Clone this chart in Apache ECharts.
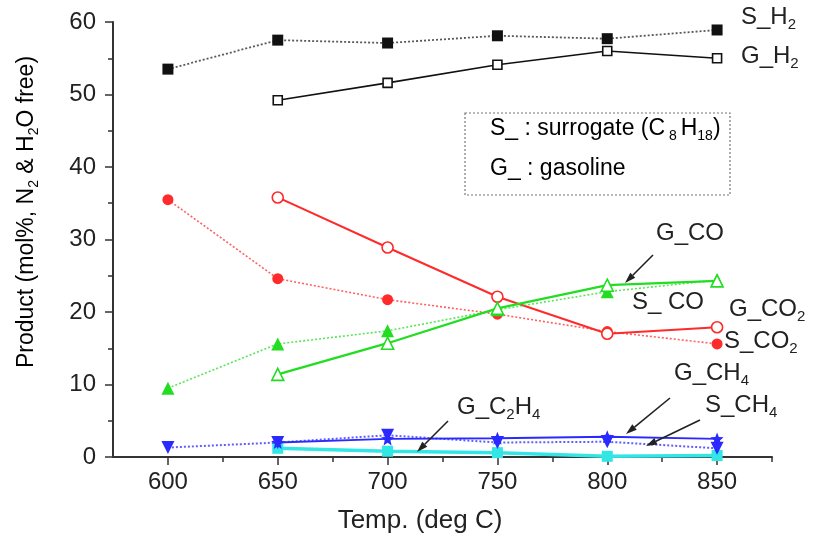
<!DOCTYPE html>
<html>
<head>
<meta charset="utf-8">
<script src="https://cdn.jsdelivr.net/npm/echarts@6/dist/echarts.min.js"></script>
<style>
html,body{margin:0;padding:0;background:#fff;}
#chart{width:815px;height:540px;}
</style>
</head>
<body>
<div id="chart"></div>
<script>
// ---- data ----
const temps = [600, 650, 700, 750, 800, 850];
const xMajorTicks = [600, 650, 700, 750, 800, 850];
const xMinorTicks = [625, 675, 725, 775, 825, 875];
const S_H2   = [53.5, 57.5, 57.1, 58.1, 57.7, 58.9];
const G_H2   = [null, 49.2, 51.6, 54.1, 56.0, 55.0];
const S_CO2  = [35.5, 24.6, 21.7, 19.7, 17.3, 15.6];
const G_CO2  = [null, 35.8, 28.9, 22.1, 17.0, 17.9];
const S_CO   = [9.5, 15.6, 17.4, 20.3, 22.8, 24.4];
const G_CO   = [null, 11.4, 15.7, 20.5, 23.7, 24.3];
const S_CH4  = [1.3, 2.0, 3.0, 2.0, 2.1, 1.2];
const G_CH4  = [null, 2.0, 2.5, 2.6, 2.8, 2.5];
const G_C2H4 = [null, 1.2, 0.8, 0.6, 0.1, 0.2];

const FONT = 'Liberation Sans, Arial, sans-serif';
const pair = arr => temps.map((t, i) => [t, arr[i]]).filter(p => p[1] !== null);

const chart = echarts.init(document.getElementById('chart'), null, {renderer: 'canvas'});

function mkRich(size, sub, lh) {
  return {
    m: {fontSize: size, fontFamily: FONT, color: '#222', lineHeight: lh},
    s: {fontSize: sub, fontFamily: FONT, color: '#222', verticalAlign: 'bottom'}
  };
}
const rich = mkRich(24, 15, 30);
const richBox = mkRich(23, 14, 29);
const richY = mkRich(23, 14, 29);

function label(x, y, text) {
  return {type: 'text', left: x, top: y - 15, z: 100,
    style: {text: text, rich: rich, fill: '#222'}};
}
function arrow(x1, y1, x2, y2) {
  const ang = Math.atan2(y2 - y1, x2 - x1);
  const L = 11, W = 3.5;
  const bx = x2 - L * Math.cos(ang), by = y2 - L * Math.sin(ang);
  const px = -Math.sin(ang) * W, py = Math.cos(ang) * W;
  return [
    {type: 'line', z: 100, shape: {x1: x1, y1: y1, x2: bx, y2: by},
     style: {stroke: '#222', lineWidth: 1.6}},
    {type: 'polygon', z: 100, shape: {points: [[x2, y2], [bx + px, by + py], [bx - px, by - py]]},
     style: {fill: '#222'}}
  ];
}

const starPath = 'path://M0,-10 L2.6,-3.6 L9.5,-3.1 L4.2,1.4 L5.9,8.1 L0,4.4 L-5.9,8.1 L-4.2,1.4 L-9.5,-3.1 L-2.6,-3.6 Z';

function line(name, data, color, dotted, symbol, size, fill, width, z) {
  return {
    name: name, type: 'line', data: pair(data), z: z || 2,
    symbol: symbol, symbolSize: size, showSymbol: true,
    lineStyle: {color: color, width: width, type: dotted ? [2, 2] : 'solid', opacity: dotted ? 0.75 : 1},
    itemStyle: {color: fill, borderColor: color, borderWidth: fill === '#fff' ? 1.6 : 0},
    emphasis: {disabled: true}
  };
}

const option = {
  animation: false,
  backgroundColor: '#fff',
  grid: {left: 113, right: 43, top: 22, bottom: 83},
  xAxis: [{
    type: 'value', min: 575, max: 875, interval: 25,
    axisLine: {lineStyle: {color: '#333', width: 2}},
    axisTick: {customValues: xMajorTicks, length: 8, lineStyle: {color: '#333', width: 1.5}},
    axisLabel: {customValues: xMajorTicks, margin: 13, fontSize: 24, fontFamily: FONT, color: '#222'},
    splitLine: {show: false}
  }, {
    type: 'value', min: 575, max: 875, position: 'bottom', gridIndex: 0,
    axisLine: {show: false},
    axisTick: {customValues: xMinorTicks, length: 5, lineStyle: {color: '#333', width: 1.5}},
    axisLabel: {show: false},
    splitLine: {show: false}
  }],
  yAxis: {
    type: 'value', min: 0, max: 60, interval: 10,
    axisLine: {show: true, lineStyle: {color: '#333', width: 2}},
    axisTick: {show: true, length: 8, lineStyle: {color: '#333', width: 1.5}},
    minorTick: {show: true, splitNumber: 2, length: 5, lineStyle: {color: '#333', width: 1.5}},
    axisLabel: {margin: 17, fontSize: 24, fontFamily: FONT, color: '#222'},
    splitLine: {show: false}
  },
  series: [
    line('S_H2', S_H2, '#222', true, 'rect', 11, '#111', 1.8, 3),
    line('G_H2', G_H2, '#111', false, 'rect', 9, '#fff', 1.6, 3),
    line('S_CO2', S_CO2, '#ff2a2a', true, 'circle', 11, '#ff2a2a', 1.6, 3),
    line('G_CO2', G_CO2, '#ff2a2a', false, 'circle', 11, '#fff', 2, 3),
    line('S_CO', S_CO, '#22dd22', true, 'triangle', 13, '#22dd22', 1.6, 3),
    line('G_CO', G_CO, '#22dd22', false, 'triangle', 12, '#fff', 2.2, 3),
    line('G_C2H4', G_C2H4, '#33e6e6', false, 'rect', 11, '#33e6e6', 3.5, 2),
    line('S_CH4', S_CH4, '#2a2aff', true, 'triangle', 13, '#2a2aff', 2, 4),
    line('G_CH4', G_CH4, '#2a2aff', false, starPath, 13, '#2a2aff', 2, 4)
  ].map(s => {
    if (s.name === 'S_CH4') s.symbolRotate = 180;
    return s;
  }),
  graphic: [
    // y axis title
    {type: 'text', x: 27, y: 212, rotation: Math.PI / 2, z: 100,
     style: {text: '{m|Product (mol%, N}{s|2}{m| & H}{s|2}{m|O free)}', rich: richY,
             align: 'center', verticalAlign: 'middle'}},
    // x axis title
    {type: 'text', x: 420, y: 521, z: 100,
     style: {text: 'Temp. (deg C)', font: '26px ' + FONT, fill: '#222', align: 'center', verticalAlign: 'middle'}},
    // legend box
    {type: 'rect', z: 90, shape: {x: 465, y: 113, width: 265, height: 82},
     style: {fill: '#fff', stroke: '#777', lineWidth: 1.2, lineDash: [2, 2]}},
    {type: 'text', left: 490, top: 132 - 14.5, z: 100,
     style: {text: '{m|S_ : surrogate (C}{s| 8 }{m|H}{s|18}{m|)}', rich: richBox}},
    {type: 'text', left: 490, top: 172 - 14.5, z: 100,
     style: {text: '{m|G_ : gasoline}', rich: richBox}},
    // series annotations
    label(741, 20, '{m|S_H}{s|2}'),
    label(741, 59, '{m|G_H}{s|2}'),
    label(656, 236, '{m|G_CO}'),
    label(632, 305, '{m|S_ CO}'),
    label(729, 312, '{m|G_CO}{s|2}'),
    label(724, 344, '{m|S_CO}{s|2}'),
    label(674, 376, '{m|G_CH}{s|4}'),
    label(705, 408, '{m|S_CH}{s|4}'),
    label(457, 410, '{m|G_C}{s|2}{m|H}{s|4}')
  ].concat(
    arrow(653, 255, 625, 283),
    arrow(670, 398, 626, 434),
    arrow(700, 420, 646, 446),
    arrow(448, 421, 417, 452)
  )
};
chart.setOption(option);
</script>
</body>
</html>
